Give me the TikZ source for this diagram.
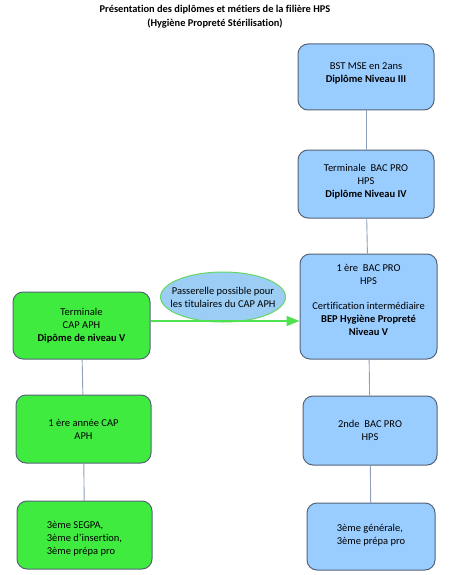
\documentclass[tikz,border=0pt]{standalone}
\usepackage{fontspec}
\setmainfont{Carlito}[Ligatures=NoCommon]
\usetikzlibrary{shapes.geometric, arrows.meta}

\definecolor{bluefill}{RGB}{153,204,255}
\definecolor{greenfill}{RGB}{64,235,64}
\definecolor{boxline}{RGB}{85,100,120}
\definecolor{linkline}{RGB}{140,160,185}
\definecolor{ovalfill}{RGB}{156,206,245}
\definecolor{ovalline}{RGB}{100,215,100}
\definecolor{arrowgreen}{RGB}{80,225,80}

\begin{document}
\begin{tikzpicture} [x=1pt, y=-1pt,
    box/.style = {draw=boxline, line width=1pt, rounded corners=10pt, align=center,
                  inner sep=0pt, font=\fontsize{10.5}{13}\selectfont},
    bluebox/.style = {box, fill=bluefill},
    greenbox/.style = {box, fill=greenfill},
    link/.style = {draw=linkline, line width=0.9pt}]
    \useasboundingbox (0,0) rectangle (450,575);

    \node (title) [align=center, font=\fontsize{10.4}{14}\selectfont\bfseries] at (215,17)
        {Présentation des diplômes et métiers de la filière HPS\\(Hygiène Propreté Stérilisation)};

    % filiere BAC PRO
    \node (bst) [bluebox, minimum width=136, minimum height=66] at (366,77)
        {BST MSE en 2ans\\\textbf{Diplôme Niveau III}\\[-4pt]};
    \node (term) [bluebox, minimum width=136, minimum height=68] at (366,184)
        {Terminale~ BAC PRO\\HPS\\\textbf{Diplôme Niveau IV}\\[-6pt]};
    \node (prem) [bluebox, minimum width=137, minimum height=105] at (368.5,306.5)
        {1 ère~ BAC PRO\\HPS\\[12pt]Certification intermédiaire\\\textbf{BEP Hygiène Propreté}\\\textbf{Niveau V}\\[1pt]};
    \node (sec) [bluebox, minimum width=134, minimum height=69] at (370,430.5)
        {2nde~ BAC PRO\\HPS};
    \node (gen) [bluebox, align=left, minimum width=128, minimum height=67] at (371,536.5)
        {3ème générale,\\3ème prépa pro\\[-9pt]};

    % filiere CAP
    \node (capterm) [greenbox, minimum width=137, minimum height=67] at (81.5,325.5)
        {Terminale\\CAP APH\\\textbf{Dipôme de niveau V}};
    \node (cap1) [greenbox, minimum width=135, minimum height=68] at (83.5,429)
        {1 ère année CAP\\APH};
    \node (segpa) [greenbox, minimum width=135, minimum height=68,
        label={[align=left, yshift=-4pt, font=\fontsize{10.5}{13}\selectfont]center:3ème SEGPA,\\3ème d'insertion,\\3ème prépa pro}]
        at (84.5,535) {};

    \node (passerelle) [ellipse, draw=ovalline, fill=ovalfill, line width=1pt, inner sep=0pt,
        minimum width=125, minimum height=50,
        label={[align=center, font=\fontsize{10.5}{13}\selectfont]center:Passerelle possible pour\\les titulaires du CAP APH}]
        at (223,297) {};

    \path [link]
    (bst) edge (term)
    (term) edge (prem)
    (prem) edge (sec)
    (sec) edge (gen)
    (capterm) edge (cap1)
    (cap1) edge (segpa);

    \draw [arrowgreen, line width=1.6pt, -{Triangle[length=13pt, width=10pt]}]
        ([yshift=4.5pt]capterm.east) -- ([yshift=4.5pt]capterm.east -| prem.west);
\end{tikzpicture}
\end{document}
